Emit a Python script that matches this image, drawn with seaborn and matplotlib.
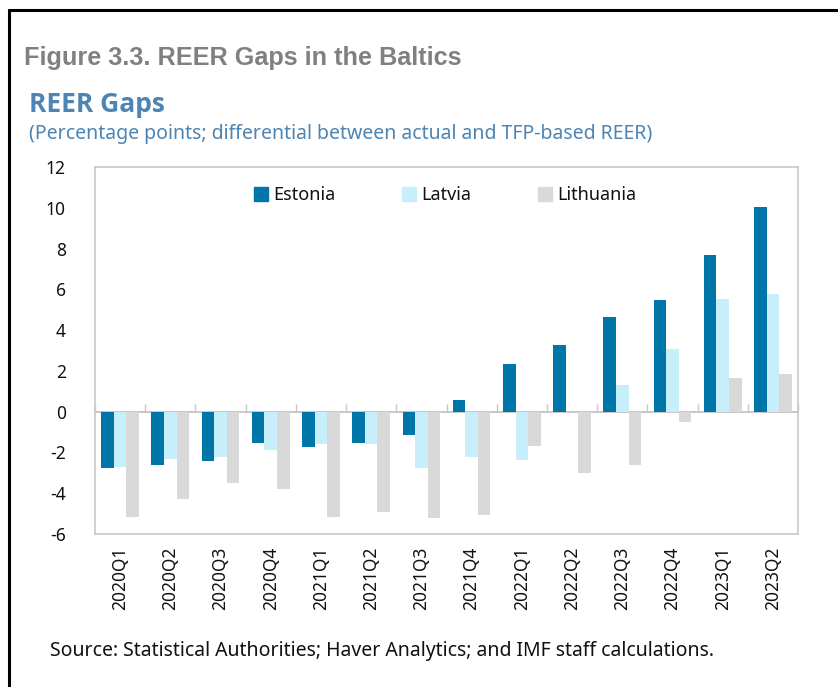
import matplotlib
matplotlib.use("Agg")
import matplotlib.pyplot as plt
import seaborn as sns
import pandas as pd
from matplotlib.lines import Line2D

quarters = ["2020Q1", "2020Q2", "2020Q3", "2020Q4", "2021Q1", "2021Q2", "2021Q3",
            "2021Q4", "2022Q1", "2022Q2", "2022Q3", "2022Q4", "2023Q1", "2023Q2"]
estonia = [-2.75, -2.60, -2.44, -1.54, -1.72, -1.56, -1.16,
           0.56, 2.33, 3.28, 4.62, 5.47, 7.68, 10.06]
latvia = [-2.72, -2.31, -2.23, -1.87, -1.57, -1.60, -2.78,
          -2.23, -2.38, 0.0, 1.29, 3.06, 5.52, 5.77]
lithuania = [-5.16, -4.29, -3.50, -3.80, -5.18, -4.93, -5.22,
             -5.05, -1.69, -3.01, -2.62, -0.49, 1.67, 1.83]
countries = ["Estonia", "Latvia", "Lithuania"]
colors = ["#0076A8", "#C6EEFB", "#D9D9D9"]
yticks = [-6, -4, -2, 0, 2, 4, 6, 8, 10, 12]

df = pd.DataFrame({
    "quarter": quarters * 3,
    "value": estonia + latvia + lithuania,
    "country": [c for c in countries for _ in quarters],
})

sns.set_theme(style="white")
plt.rcParams["font.family"] = ["Noto Sans", "DejaVu Sans"]

W, H = 838, 687
fig = plt.figure(figsize=(W / 100, H / 100), dpi=100)
ax = fig.add_axes([95 / W, 1 - 534 / H, (798 - 95) / W, (534 - 167) / H])

sns.barplot(data=df, x="quarter", y="value", hue="country", order=quarters,
            hue_order=countries, palette=colors, width=0.75, gap=0,
            saturation=1, ax=ax, legend=False, edgecolor="none", linewidth=0)

ax.set_ylim(-6, 12)
ax.set_xlim(-0.5, len(quarters) - 0.5)
ax.set_yticks(yticks)
ax.set_yticklabels([str(t) for t in yticks])
ax.set_xlabel("")
ax.set_ylabel("")
for s in ax.spines.values():
    s.set_color("#C8C8C8")
    s.set_linewidth(1.2)
ax.tick_params(axis="y", direction="in", length=6, width=1, color="#C8C8C8",
               pad=21, labelsize=12.5, labelcolor="#111111")
ax.tick_params(axis="x", length=0, pad=9, labelsize=12.5, labelcolor="#111111",
               labelrotation=90)
ax.grid(False)

# zero axis with category-boundary ticks
sec = ax.secondary_xaxis(0, transform=ax.transData)
sec.set_xticks([i + 0.5 for i in range(-1, len(quarters))])
sec.set_xticklabels([])
sec.tick_params(direction="in", length=6, width=1, color="#C8C8C8")
sec.spines["bottom"].set_color("#BEBEBE")
sec.spines["bottom"].set_linewidth(1.2)

handles = [Line2D([0], [0], marker="s", linestyle="none", markersize=10,
                  markerfacecolor=c, markeredgecolor=c) for c in colors]
ax.legend(handles, countries, ncol=3, frameon=False, loc="center",
          bbox_to_anchor=((444 - 95) / (798 - 95), 1 - (195 - 167) / (534 - 167)),
          fontsize=13, columnspacing=3.55, handletextpad=0.2, handlelength=1.0,
          labelcolor="#111111")

fig.text(24 / W, 1 - 58 / H, "Figure 3.3. REER Gaps in the Baltics",
         fontsize=18.2, fontweight="bold", color="#808080",
         family=["Liberation Sans"], va="center", ha="left")
fig.text(29 / W, 1 - 105 / H, "REER Gaps", fontsize=19, fontweight="bold",
         color="#4C84B4", family=["Open Sans", "DejaVu Sans"],
         va="center", ha="left")
fig.text(29 / W, 1 - 134 / H,
         "(Percentage points; differential between actual and TFP-based REER)",
         fontsize=14, color="#4C84B4", va="center", ha="left")
fig.text(50 / W, 1 - 651 / H,
         "Source: Statistical Authorities; Haver Analytics; and IMF staff calculations.",
         fontsize=14, color="#111111", va="center", ha="left")

# page frame (left and top edges)
fig.add_artist(Line2D([9 / W, 9 / W], [0, 1 - 10 / H], transform=fig.transFigure,
                      color="black", linewidth=2.2))
fig.add_artist(Line2D([9 / W, 1], [1 - 10 / H, 1 - 10 / H], transform=fig.transFigure,
                      color="black", linewidth=2.2))

fig.savefig("out.png", dpi=100)
